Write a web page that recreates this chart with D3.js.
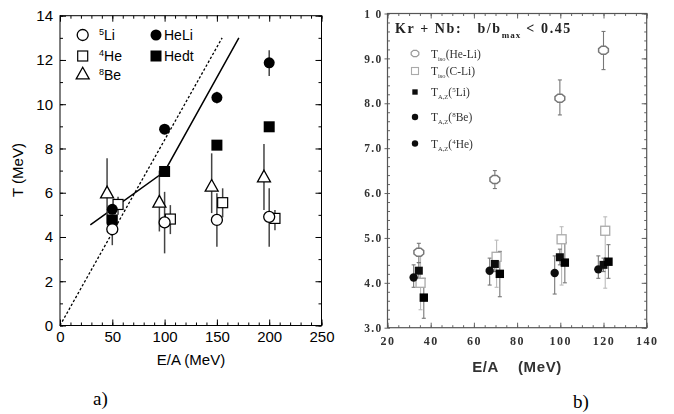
<!DOCTYPE html>
<html><head><meta charset="utf-8">
<script src="https://cdn.jsdelivr.net/npm/d3@7"></script>
<style>
html,body{margin:0;padding:0;background:#fff;}
svg{display:block;}
</style></head>
<body>
<svg id="chart" width="674" height="414"></svg>
<script>
// ---------- Panel a data ----------
const energyA = [50, 100, 150, 200];
const heLi   = [5.25, 8.87, 10.3, 11.87];
const heLiLo = [5.1, 8.75, 10.03, 11.27];
const heLiHi = [5.4, 9.0, 10.56, 12.44];
const hedt   = [4.77, 6.96, 8.15, 8.98];
const hedtLo = [4.65, 6.8, 8.0, 8.78];
const hedtHi = [4.9, 7.1, 8.3, 9.2];
const li5    = [4.35, 4.66, 4.77, 4.91];
const li5Lo  = [3.63, 3.26, 3.56, 3.56];
const li5Hi  = [5.0, 6.04, 5.98, 6.2];
const he4    = [5.47, 4.81, 5.55, 4.84];
const he4Lo  = [5.0, 4.13, 4.89, 4.31];
const he4Hi  = [5.82, 5.44, 6.2, 5.22];
const be8    = [5.97, 5.55, 6.27, 6.69];
const be8Lo  = [4.6, 4.25, 5.08, 5.22];
const be8Hi  = [7.56, 7.0, 7.78, 8.2];
const dottedLine = [[0, 0], [155, 13]];
const solidLine  = [[29, 4.55], [100, 6.96], [171, 13]];
const xTicksA = [0, 50, 100, 150, 200, 250];
const yTicksA = [0, 2, 4, 6, 8, 10, 12, 14];

// ---------- Panel b data ----------
const energyB = [34.5, 69.7, 99.8, 120];
const tHeLi   = [4.68, 6.3, 8.11, 9.18];
const tHeLiLo = [4.45, 6.1, 7.74, 8.75];
const tHeLiHi = [4.88, 6.5, 8.52, 9.6];
const tCLi    = [4.0, 4.58, 4.97, 5.16];
const tCLiLo  = [3.4, 3.9, 3.95, 3.88];
const tCLiHi  = [4.6, 4.95, 5.25, 5.47];
const t5Li    = [4.27, 4.42, 4.57, 4.40];
const t5LiLo  = [4.1, 4.25, 4.4, 4.25];
const t5LiHi  = [4.45, 4.6, 4.75, 4.55];
const t8Be    = [4.12, 4.27, 4.22, 4.30];
const t8BeLo  = [3.9, 3.95, 3.75, 4.1];
const t8BeHi  = [4.4, 4.55, 4.6, 4.6];
const t4He    = [3.67, 4.20, 4.45, 4.47];
const t4HeLo  = [3.21, 3.69, 4.0, 4.1];
const t4HeHi  = [4.1, 4.7, 4.9, 4.85];
const xTicksB = [20, 40, 60, 80, 100, 120, 140];
const yTicksB = [3, 4, 5, 6, 7, 8, 9, 10];

const svg = d3.select("#chart");

// =============== PANEL A ===============
const xA = d3.scaleLinear().domain([0, 250]).range([60, 321.5]);
const yA = d3.scaleLinear().domain([0, 14]).range([325.5, 15.7]);
const ga = svg.append("g");
const fontA = "'Liberation Sans', Arial, Helvetica, sans-serif";

function ticksAxis(g, axisFn, scale, values, size, pos, fmt, pad){
  const ax = axisFn(scale).tickValues(values).tickSize(size).tickPadding(pad || 6);
  ax.tickFormat(fmt === null ? "" : fmt);
  const sel = g.append("g").attr("transform", pos).call(ax);
  sel.select(".domain").remove();
  return sel;
}
const minorXA = d3.range(0, 251, 10), minorYA = d3.range(0, 15, 1);
const bA = ticksAxis(ga, d3.axisBottom, xA, xTicksA, -6, `translate(0,${yA(0)})`, d3.format("d"), 6);
bA.selectAll("text").attr("font-family", fontA).attr("font-size", 15).attr("fill", "#000");
ticksAxis(ga, d3.axisBottom, xA, minorXA, -3, `translate(0,${yA(0)})`, null);
ticksAxis(ga, d3.axisTop, xA, xTicksA, -6, `translate(0,${yA(14)})`, null);
ticksAxis(ga, d3.axisTop, xA, minorXA, -3, `translate(0,${yA(14)})`, null);
const lA = ticksAxis(ga, d3.axisLeft, yA, yTicksA, -6, `translate(${xA(0)},0)`, d3.format("d"), 7);
lA.selectAll("text").attr("font-family", fontA).attr("font-size", 15).attr("fill", "#000");
ticksAxis(ga, d3.axisLeft, yA, minorYA, -3, `translate(${xA(0)},0)`, null);
ticksAxis(ga, d3.axisRight, yA, yTicksA, -6, `translate(${xA(250)},0)`, null);
ticksAxis(ga, d3.axisRight, yA, minorYA, -3, `translate(${xA(250)},0)`, null);
ga.selectAll(".tick line").attr("stroke", "#000");

ga.append("rect").attr("x", xA(0)).attr("y", yA(14))
  .attr("width", xA(250) - xA(0)).attr("height", yA(0) - yA(14))
  .attr("fill", "none").attr("stroke", "#000").attr("stroke-width", 1);

const lineA = d3.line().x(d => xA(d[0])).y(d => yA(d[1]));
ga.append("path").attr("d", lineA(dottedLine)).attr("fill", "none")
  .attr("stroke", "#000").attr("stroke-width", 1.3).attr("stroke-dasharray", "2.5,2");
ga.append("path").attr("d", lineA(solidLine)).attr("fill", "none")
  .attr("stroke", "#000").attr("stroke-width", 1.5);

function errBarsA(vals, lo, hi, off){
  vals.forEach((v, i) => {
    ga.append("line").attr("x1", xA(energyA[i] + off)).attr("x2", xA(energyA[i] + off))
      .attr("y1", yA(lo[i])).attr("y2", yA(hi[i]))
      .attr("stroke", "#444").attr("stroke-width", 1.5);
  });
}
errBarsA(be8, be8Lo, be8Hi, -5);
errBarsA(li5, li5Lo, li5Hi, 0);
errBarsA(he4, he4Lo, he4Hi, 5.5);
errBarsA(heLi, heLiLo, heLiHi, 0);
errBarsA(hedt, hedtLo, hedtHi, 0);

function triPath(cx, cy, s){
  const h = s * 0.9;
  return `M${cx},${cy - h*0.62} L${cx + s/2},${cy + h*0.38} L${cx - s/2},${cy + h*0.38} Z`;
}
be8.forEach((v, i) => ga.append("path").attr("d", triPath(xA(energyA[i] - 5), yA(v), 13))
  .attr("fill", "#fff").attr("stroke", "#000").attr("stroke-width", 1.3));
he4.forEach((v, i) => ga.append("rect").attr("x", xA(energyA[i] + 5.5) - 5).attr("y", yA(v) - 5)
  .attr("width", 10).attr("height", 10).attr("fill", "#fff").attr("stroke", "#000").attr("stroke-width", 1.2));
hedt.forEach((v, i) => ga.append("rect").attr("x", xA(energyA[i]) - 5.5).attr("y", yA(v) - 5.5)
  .attr("width", 11).attr("height", 11).attr("fill", "#000"));
heLi.forEach((v, i) => ga.append("circle").attr("cx", xA(energyA[i])).attr("cy", yA(v))
  .attr("r", 5.5).attr("fill", "#000"));
li5.forEach((v, i) => ga.append("circle").attr("cx", xA(energyA[i])).attr("cy", yA(v))
  .attr("r", 5.5).attr("fill", "#fff").attr("stroke", "#000").attr("stroke-width", 1.3));

// legend a
const legA = ga.append("g").attr("font-family", fontA).attr("font-size", 14);
legA.append("circle").attr("cx", 82.7).attr("cy", 35).attr("r", 5.5).attr("fill", "#fff").attr("stroke", "#000").attr("stroke-width", 1.3);
legA.append("rect").attr("x", 77.7).attr("y", 51).attr("width", 10).attr("height", 10).attr("fill", "#fff").attr("stroke", "#000").attr("stroke-width", 1.2);
legA.append("path").attr("d", triPath(82.7, 74.5, 13)).attr("fill", "#fff").attr("stroke", "#000").attr("stroke-width", 1.3);
legA.append("circle").attr("cx", 156).attr("cy", 35).attr("r", 5.5).attr("fill", "#000");
legA.append("rect").attr("x", 150.5).attr("y", 50.5).attr("width", 11).attr("height", 11).attr("fill", "#000");
function isoLabel(x, y, sup, txt){
  const t = legA.append("text").attr("x", x).attr("y", y);
  t.append("tspan").attr("font-size", 9).attr("dy", -5).text(sup);
  t.append("tspan").attr("dy", 5).text(txt);
}
isoLabel(99, 40, "5", "Li");
isoLabel(99, 61, "4", "He");
isoLabel(99, 80, "8", "Be");
legA.append("text").attr("x", 164).attr("y", 40).text("HeLi");
legA.append("text").attr("x", 164).attr("y", 61).text("Hedt");

ga.append("text").attr("x", 191).attr("y", 365).attr("text-anchor", "middle")
  .attr("font-family", fontA).attr("font-size", 15).text("E/A (MeV)");
ga.append("text").attr("transform", "translate(23,170) rotate(-90)").attr("text-anchor", "middle")
  .attr("font-family", fontA).attr("font-size", 15).text("T (MeV)");
ga.append("text").attr("x", 93).attr("y", 405).attr("font-family", "'Liberation Serif', 'Times New Roman', serif")
  .attr("font-size", 19).text("a)");

// =============== PANEL B ===============
const defs = svg.append("defs");
defs.append("filter").attr("id", "soft").attr("x", "-5%").attr("y", "-5%").attr("width", "110%").attr("height", "110%")
  .append("feGaussianBlur").attr("stdDeviation", 0.7);

const xB = d3.scaleLinear().domain([20, 140]).range([387.5, 646.7]);
const yB = d3.scaleLinear().domain([3, 10]).range([327.7, 13.5]);
const gb = svg.append("g").attr("filter", "url(#soft)");
const serifB = "'Liberation Serif', 'Times New Roman', serif";

const minorXB = d3.range(20, 141, 5), minorYB = d3.range(3, 10.01, 0.2);
const bB = ticksAxis(gb, d3.axisBottom, xB, xTicksB, -5, `translate(0,${yB(3)})`, d3.format("d"), 9);
bB.selectAll("text").attr("font-family", serifB).attr("font-weight", "bold").attr("font-size", 12)
  .attr("letter-spacing", 1.5).attr("fill", "#333");
ticksAxis(gb, d3.axisBottom, xB, minorXB, -2.5, `translate(0,${yB(3)})`, null);
ticksAxis(gb, d3.axisTop, xB, xTicksB, -5, `translate(0,${yB(10)})`, null);
ticksAxis(gb, d3.axisTop, xB, minorXB, -2.5, `translate(0,${yB(10)})`, null);
const lB = ticksAxis(gb, d3.axisLeft, yB, yTicksB, 3, `translate(${xB(20)},0)`, d => d === 10 ? "1 0" : d3.format(".1f")(d), 2);
lB.selectAll("text").attr("font-family", serifB).attr("font-weight", "bold").attr("font-size", 11.5)
  .attr("letter-spacing", 1.3).attr("fill", "#333");
ticksAxis(gb, d3.axisLeft, yB, minorYB, -2.5, `translate(${xB(20)},0)`, null);
ticksAxis(gb, d3.axisRight, yB, yTicksB, -5, `translate(${xB(140)},0)`, null);
ticksAxis(gb, d3.axisRight, yB, minorYB, -2.5, `translate(${xB(140)},0)`, null);
gb.selectAll(".tick line").attr("stroke", "#666");

gb.append("rect").attr("x", xB(20)).attr("y", yB(10))
  .attr("width", xB(140) - xB(20)).attr("height", yB(3) - yB(10))
  .attr("fill", "none").attr("stroke", "#555").attr("stroke-width", 1.2);

function errBarsB(vals, lo, hi, off, col){
  vals.forEach((v, i) => {
    const x = xB(energyB[i] + off);
    gb.append("line").attr("x1", x).attr("x2", x).attr("y1", yB(lo[i])).attr("y2", yB(hi[i]))
      .attr("stroke", col).attr("stroke-width", 1.1);
    [lo[i], hi[i]].forEach(e => gb.append("line").attr("x1", x - 2).attr("x2", x + 2)
      .attr("y1", yB(e)).attr("y2", yB(e)).attr("stroke", col).attr("stroke-width", 1.1));
  });
}
errBarsB(tCLi, tCLiLo, tCLiHi, 0.8, "#bbb");
errBarsB(tHeLi, tHeLiLo, tHeLiHi, 0, "#777");
errBarsB(t8Be, t8BeLo, t8BeHi, -2.4, "#777");
errBarsB(t5Li, t5LiLo, t5LiHi, 0, "#777");
errBarsB(t4He, t4HeLo, t4HeHi, 2.3, "#777");

function hexPath(cx, cy, r){
  let p = "";
  for (let k = 0; k < 8; k++){
    const a = Math.PI / 8 + k * Math.PI / 4;
    p += (k ? "L" : "M") + (cx + r * 1.15 * Math.cos(a)) + "," + (cy + r * 0.95 * Math.sin(a));
  }
  return p + "Z";
}
tCLi.forEach((v, i) => gb.append("rect").attr("x", xB(energyB[i] + 0.8) - 4.5).attr("y", yB(v) - 4.5)
  .attr("width", 9).attr("height", 9).attr("fill", "#fff").attr("stroke", "#aaa").attr("stroke-width", 1.3));
tHeLi.forEach((v, i) => gb.append("path").attr("d", hexPath(xB(energyB[i]), yB(v), 4.6))
  .attr("fill", "#fff").attr("stroke", "#777").attr("stroke-width", 1.5));
t8Be.forEach((v, i) => gb.append("circle").attr("cx", xB(energyB[i] - 2.4)).attr("cy", yB(v)).attr("r", 4.2).attr("fill", "#111"));
t5Li.forEach((v, i) => gb.append("rect").attr("x", xB(energyB[i]) - 4).attr("y", yB(v) - 4)
  .attr("width", 8).attr("height", 8).attr("fill", "#111"));
t4He.forEach((v, i) => gb.append("rect").attr("x", xB(energyB[i] + 2.3) - 4.2).attr("y", yB(v) - 4.2)
  .attr("width", 8.4).attr("height", 8.4).attr("fill", "#000"));

// title b
const tt = gb.append("text").attr("x", 395).attr("y", 33).attr("font-family", serifB)
  .attr("font-weight", "bold").attr("font-size", 14).attr("letter-spacing", 1.6).attr("fill", "#222");
tt.append("tspan").text("Kr + Nb:\u00a0\u00a0 b/b");
tt.append("tspan").attr("font-size", 9).attr("dy", 5).attr("letter-spacing", 1).text("max");
tt.append("tspan").attr("dy", -5).text("\u00a0< 0.45");

// legend b
const legRows = [
  {y: 53.5, sub: "iso", sup: "", txt: "(He-Li)"},
  {y: 71, sub: "iso", sup: "", txt: "(C-Li)"},
  {y: 92, sub: "A,Z", sup: "5", txt: "Li)"},
  {y: 117, sub: "A,Z", sup: "8", txt: "Be)"},
  {y: 143.5, sub: "A,Z", sup: "4", txt: "He)"}
];
gb.append("path").attr("d", hexPath(415, legRows[0].y, 3.6)).attr("fill", "#fff").attr("stroke", "#999").attr("stroke-width", 1.2);
gb.append("rect").attr("x", 411.5).attr("y", legRows[1].y - 3.5).attr("width", 7).attr("height", 7).attr("fill", "#fff").attr("stroke", "#aaa").attr("stroke-width", 1.1);
gb.append("rect").attr("x", 412.3).attr("y", legRows[2].y - 2.7).attr("width", 5.4).attr("height", 5.4).attr("fill", "#111");
gb.append("circle").attr("cx", 415).attr("cy", legRows[3].y).attr("r", 3.2).attr("fill", "#111");
gb.append("circle").attr("cx", 415).attr("cy", legRows[4].y).attr("r", 3.2).attr("fill", "#111");
legRows.forEach(r => {
  const t = gb.append("text").attr("x", 431).attr("y", r.y + 4).attr("font-family", serifB)
    .attr("font-size", 11.5).attr("fill", "#333");
  t.append("tspan").text("T");
  t.append("tspan").attr("font-size", 6.5).attr("dy", 3).text(r.sub);
  if (r.sup){
    t.append("tspan").attr("dy", -3).text("(");
    t.append("tspan").attr("font-size", 7).attr("dy", -4).text(r.sup);
    t.append("tspan").attr("dy", 4).text(r.txt);
  } else {
    t.append("tspan").attr("dy", -3).text(r.txt);
  }
});

gb.append("text").attr("x", 517).attr("y", 372).attr("text-anchor", "middle")
  .attr("font-family", "'Liberation Sans', Arial, sans-serif").attr("font-weight", "bold")
  .attr("font-size", 15).attr("letter-spacing", 0.6).attr("fill", "#333").text("E/A\u00a0\u00a0\u00a0 (MeV)");

svg.append("text").attr("x", 573).attr("y", 408).attr("font-family", serifB)
  .attr("font-size", 19).text("b)");
</script>
</body></html>
